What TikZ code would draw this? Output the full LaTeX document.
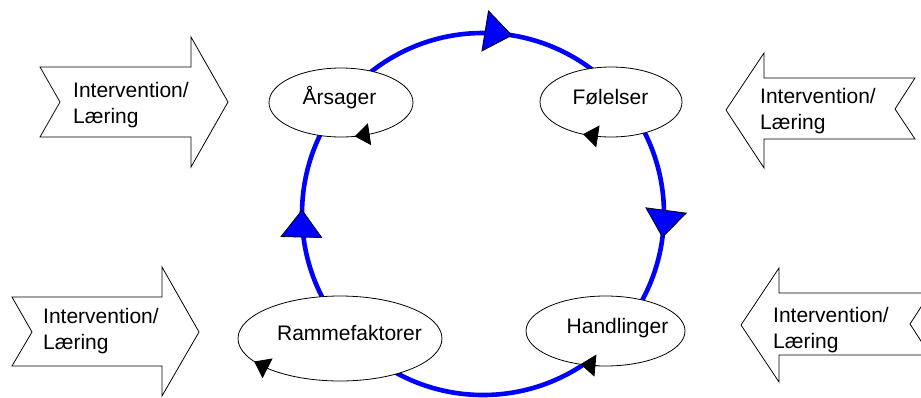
\documentclass[tikz,border=0pt]{standalone}
\usepackage{fontspec}
\setmainfont{Liberation Sans}
\usetikzlibrary{arrows.meta,shapes.geometric,decorations.markings}
\definecolor{LoopBlue}{HTML}{0000FF}
\tikzset{
  oval/.style={ellipse, draw, fill=white, inner sep=0pt, outer sep=0pt, line width=0.8pt},
  ovaltext/.style={inner sep=0pt, anchor=base},
  lesson/.style={draw, fill=white, line width=0.8pt, line join=miter},
  lessontext/.style={align=left, anchor=north west, inner sep=0pt},
  looptip/.tip={Triangle[length=28pt, width=42pt, fill=LoopBlue, color=black, line width=0.8pt]},
  loopline/.style={draw=LoopBlue, line width=4.6pt, postaction={decorate},
    decoration={markings,
      mark=at position 0.021 with {\arrow{looptip}},
      mark=at position 0.504 with {\arrow{looptip}},
      mark=at position 0.776 with {\arrow{looptip}}}},
  turntip/.style={-{Triangle[length=15pt, width=22pt]}, line width=0.8pt}
}

\begin{document}
\begin{tikzpicture}[x=1pt, y=-1pt, font=\fontsize{21}{26}\selectfont]
  \useasboundingbox (0,0) rectangle (921,397);
  \clip (0,0) rectangle (921,397);
  % intervention arrows
  \draw[lesson] (40,67) -- (191,67) -- (191,37) -- (228,102) -- (191,167) -- (191,137) -- (40,137) -- (60,102) -- cycle;
  \draw[lesson] (915,78) -- (764,78) -- (764,53) -- (726,110) -- (764,168) -- (764,139) -- (915,139) -- (895,109) -- cycle;
  \draw[lesson] (12,297) -- (162,297) -- (162,267) -- (199,332) -- (162,396) -- (162,366) -- (12,366) -- (32,332) -- cycle;
  \draw[lesson] (930,293) -- (779,293) -- (779,268) -- (741,325) -- (779,382) -- (779,355) -- (930,355) -- (910,324) -- cycle;
  \node[lessontext] (learn-nw) at (73,82) {Intervention/\\Læring};
  \node[lessontext] (learn-ne) at (760,88) {Intervention/\\Læring};
  \node[lessontext] (learn-sw) at (43,308) {Intervention/\\Læring};
  \node[lessontext] (learn-se) at (773,307) {Intervention/\\Læring};
  % the cycle
  \coordinate (hub) at (483,214);
  \draw[loopline] (hub) circle[radius=181];
  \node[oval, minimum width=144pt, minimum height=69pt] (aars) at (341,102.5) {};
  \node[oval, minimum width=142pt, minimum height=70pt] (fol) at (611,102) {};
  \node[oval, minimum width=159pt, minimum height=70pt] (hand) at (605.5,331) {};
  \node[oval, minimum width=204pt, minimum height=85pt] (ramme) at (340,338.5) {};
  \node[ovaltext] (aars-t) at (339.5,104) {Årsager};
  \node[ovaltext] (fol-t) at (610.5,104.5) {Følelser};
  \node[ovaltext] (hand-t) at (617.5,333) {Handlinger};
  \node[ovaltext] (ramme-t) at (349.5,340) {Rammefaktorer};
  % turning marks on the ovals
  \draw[turntip] (aars.312) -- (aars.292);
  \draw[turntip] (fol.249) -- (fol.229);
  \draw[turntip] (hand.258) -- (hand.233);
  \draw[turntip] (ramme.203) -- (ramme.195);
\end{tikzpicture}
\end{document}
